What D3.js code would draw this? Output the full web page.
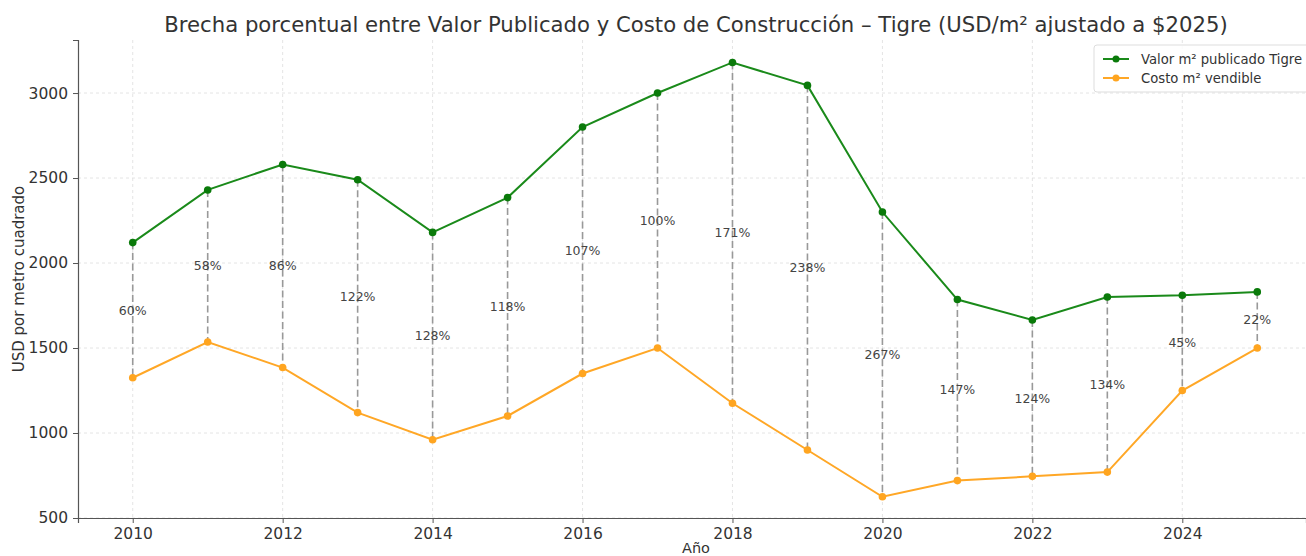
<!DOCTYPE html>
<html>
<head>
<meta charset="utf-8">
<script src="https://cdn.jsdelivr.net/npm/d3@7"></script>
<style>
  body { margin: 0; background: #fff; }
  svg { font-family: "DejaVu Sans", sans-serif; }
</style>
</head>
<body>
<div id="chart"></div>
<script>
// data
var years = [2010, 2011, 2012, 2013, 2014, 2015, 2016, 2017, 2018, 2019, 2020, 2021, 2022, 2023, 2024, 2025];
var valorTigre = [2120, 2430, 2580, 2490, 2180, 2385, 2800, 3000, 3180, 3045, 2300, 1785, 1665, 1800, 1810, 1830];
var costoVendible = [1325, 1535, 1385, 1120, 960, 1100, 1350, 1500, 1175, 900, 625, 720, 745, 770, 1250, 1500];
var gapLabels = ["60%", "58%", "86%", "122%", "128%", "118%", "107%", "100%", "171%", "238%", "267%", "147%", "124%", "134%", "45%", "22%"];
var xTicks = [2010, 2012, 2014, 2016, 2018, 2020, 2022, 2024];
var yTicks = [500, 1000, 1500, 2000, 2500, 3000];
var seriesNames = ["Valor m² publicado Tigre", "Costo m² vendible"];

var margin = {top: 40, right: 0, bottom: 38, left: 78},
    width = 1306 - margin.left - margin.right,
    height = 556 - margin.top - margin.bottom;

var svg = d3.select("#chart")
  .append("svg")
    .attr("width", 1306)
    .attr("height", 556)
  .append("g")
    .attr("transform", "translate(" + margin.left + "," + margin.top + ")");

var x = d3.scaleLinear()
  .domain([2009.27, 2025.65])
  .range([0, width]);

var y = d3.scaleLinear()
  .domain([500, 3312])
  .range([height, 0]);

// grid
svg.append("g")
  .selectAll("line.gx")
  .data(xTicks)
  .enter().append("line")
    .attr("x1", function(d) { return x(d); })
    .attr("x2", function(d) { return x(d); })
    .attr("y1", 0).attr("y2", height)
    .attr("stroke", "#ddd").attr("stroke-width", 0.8)
    .attr("stroke-dasharray", "3,3");
svg.append("g")
  .selectAll("line.gy")
  .data(yTicks)
  .enter().append("line")
    .attr("x1", 0).attr("x2", width)
    .attr("y1", function(d) { return y(d); })
    .attr("y2", function(d) { return y(d); })
    .attr("stroke", "#ddd").attr("stroke-width", 0.8)
    .attr("stroke-dasharray", "3,3");

// axes
var xAxis = svg.append("g")
  .attr("transform", "translate(0," + height + ")")
  .call(d3.axisBottom(x).tickValues(xTicks).tickFormat(d3.format("d")).tickSizeOuter(0).tickSize(5).tickPadding(5));
var yAxis = svg.append("g")
  .call(d3.axisLeft(y).tickValues(yTicks).tickFormat(d3.format("d")).tickSizeOuter(0).tickSize(5).tickPadding(5));
[xAxis, yAxis].forEach(function(a) {
  a.selectAll("text").attr("font-size", 15.5).attr("fill", "#333").attr("font-family", "DejaVu Sans, sans-serif");
  a.selectAll("line").attr("stroke", "#555");
  a.select(".domain").attr("stroke", "#555").attr("stroke-width", 1.2);
});

// gap connectors
var data = years.map(function(yr, i) {
  return {year: yr, v: valorTigre[i], c: costoVendible[i], label: gapLabels[i]};
});

svg.append("g")
  .selectAll("line")
  .data(data)
  .enter().append("line")
    .attr("x1", function(d) { return x(d.year); })
    .attr("x2", function(d) { return x(d.year); })
    .attr("y1", function(d) { return y(d.v); })
    .attr("y2", function(d) { return y(d.c); })
    .attr("stroke", "#999").attr("stroke-width", 1.6)
    .attr("stroke-dasharray", "7,3.5");

svg.append("g")
  .selectAll("text")
  .data(data)
  .enter().append("text")
    .attr("x", function(d) { return x(d.year); })
    .attr("y", function(d) { return y((d.v + d.c) / 2); })
    .attr("dy", "0.35em")
    .attr("text-anchor", "middle")
    .attr("font-size", 12.5)
    .attr("fill", "#444")
    .text(function(d) { return d.label; });

// lines
var colors = ["#1a8a1a", "#ffa726"];
var dotColors = ["#0a7a0a", "#ffa520"];
[valorTigre, costoVendible].forEach(function(vals, k) {
  var line = d3.line()
    .x(function(d, i) { return x(years[i]); })
    .y(function(d) { return y(d); });
  svg.append("path")
    .datum(vals)
    .attr("fill", "none")
    .attr("stroke", colors[k])
    .attr("stroke-width", 2)
    .attr("d", line);
  svg.append("g")
    .selectAll("circle")
    .data(vals)
    .enter().append("circle")
      .attr("cx", function(d, i) { return x(years[i]); })
      .attr("cy", function(d) { return y(d); })
      .attr("r", 3.8)
      .attr("fill", dotColors[k]);
});

// title and labels
d3.select("svg").append("text")
  .attr("x", 696).attr("y", 32)
  .attr("text-anchor", "middle")
  .attr("font-size", 21.2)
  .attr("fill", "#333")
  .text("Brecha porcentual entre Valor Publicado y Costo de Construcción – Tigre (USD/m² ajustado a $2025)");

d3.select("svg").append("text")
  .attr("transform", "translate(24," + (margin.top + height / 2) + ") rotate(-90)")
  .attr("text-anchor", "middle")
  .attr("font-size", 15)
  .attr("fill", "#333")
  .text("USD por metro cuadrado");

d3.select("svg").append("text")
  .attr("x", 696).attr("y", 553)
  .attr("text-anchor", "middle")
  .attr("font-size", 14.5)
  .attr("fill", "#333")
  .text("Año");

// legend
var legend = d3.select("svg").append("g").attr("transform", "translate(1094,45)");
legend.append("rect")
  .attr("width", 230).attr("height", 47).attr("rx", 3)
  .attr("fill", "#fff").attr("fill-opacity", 0.85)
  .attr("stroke", "#ddd");
seriesNames.forEach(function(name, k) {
  var g = legend.append("g").attr("transform", "translate(0," + (14 + k * 19) + ")");
  g.append("line").attr("x1", 9).attr("x2", 35).attr("y1", 0).attr("y2", 0)
    .attr("stroke", colors[k]).attr("stroke-width", 2);
  g.append("circle").attr("cx", 22).attr("cy", 0).attr("r", 3.5).attr("fill", dotColors[k]);
  g.append("text").attr("x", 47).attr("y", 0).attr("dy", "0.35em")
    .attr("font-size", 13.2).attr("fill", "#333").text(name);
});
</script>
</body>
</html>
